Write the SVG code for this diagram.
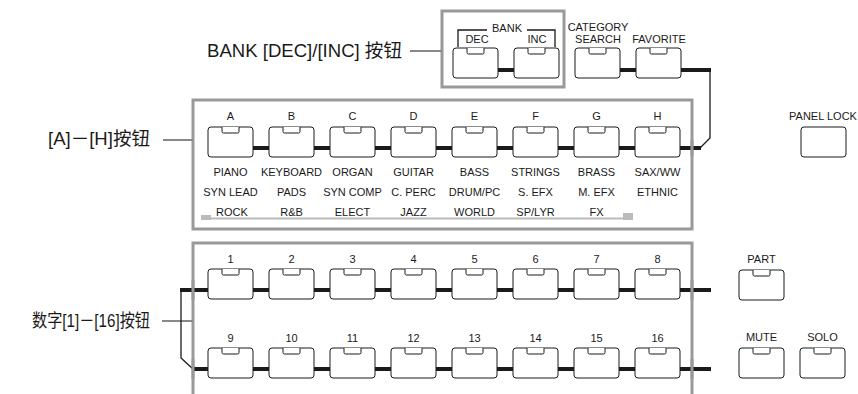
<svg xmlns="http://www.w3.org/2000/svg" xmlns:xlink="http://www.w3.org/1999/xlink" width="858" height="394" viewBox="0 0 858 394">
<style>
.lbl{font-family:"Liberation Sans",Arial,sans-serif;font-size:11px;fill:#1a1a1a;text-anchor:middle}
.big{font-family:"Liberation Sans","Noto Sans CJK SC",sans-serif;font-size:18px;fill:#1a1a1a}
.frame{fill:none;stroke:#999;stroke-width:3}
.lead{fill:none;stroke:#888;stroke-width:2}
.bar{fill:none;stroke:#1a1a1a;stroke-width:4}
.wire{fill:none;stroke:#1a1a1a;stroke-width:1.3}
.sbar{fill:none;stroke:#bbb;stroke-width:2}
</style>
<defs>
<g id="btn">
<rect x="0" y="0" width="45" height="30" rx="3" fill="#fff" stroke="#1a1a1a" stroke-width="1"/>
<path d="M14,0 V4.5 Q14,6 15.5,6 H29.5 Q31,6 31,4.5 V0" fill="#fff" stroke="#1a1a1a" stroke-width="1"/>
</g>
<g id="btnp">
<rect x="0" y="0" width="45" height="30" rx="3" fill="#fff" stroke="#1a1a1a" stroke-width="1"/>
</g>
</defs>
<rect width="858" height="394" fill="#fff"/>

<!-- frames and leaders -->
<g id="frames">
<rect class="frame" x="442" y="11" width="122" height="76"/>
<rect class="frame" x="193" y="100" width="499" height="129"/>
<path class="frame" d="M193,396 V243 H692 V396"/>
<path class="lead" d="M410,51 H442"/>
<path class="lead" d="M163,140 H193"/>
<path class="lead" d="M162,321 H193"/>
<path class="sbar" d="M206,218.5 H628"/>
<rect x="201" y="215" width="10" height="5" fill="#bbb"/>
<rect x="623" y="213" width="10" height="7" fill="#bbb"/>
</g>

<!-- connectors -->
<g id="connectors">
<path class="bar" d="M498,70 H514 M620,70 H636 M681,70 H711"/>
<path class="wire" d="M710,70 V138 L700,148"/>
<path class="bar" d="M253,148 H269 M314,148 H330 M375,148 H391 M436,148 H452 M497,148 H513 M558,148 H574 M619,148 H635 M680,148 H701"/>
<path class="bar" d="M180,290 H208 M253,290 H269 M314,290 H330 M375,290 H391 M436,290 H452 M497,290 H513 M558,290 H574 M619,290 H635 M680,290 H711"/>
<path class="bar" d="M193,369 H208 M253,369 H269 M314,369 H330 M375,369 H391 M436,369 H452 M497,369 H513 M558,369 H574 M619,369 H635 M680,369 H711"/>
<path class="wire" d="M181,290 V358 L193,369"/>
<path class="frame" d="M692,280 V300 M692,359 V379 M193,280 V300 M193,359 V379 M692,140 V156"/>
</g>

<!-- callout labels -->
<g id="callouts">
<text class="big" x="207" y="57" textLength="195" lengthAdjust="spacingAndGlyphs">BANK [DEC]/[INC] 按钮</text>
<text class="big" x="48" y="145" textLength="102" lengthAdjust="spacingAndGlyphs">[A]－[H]按钮</text>
<text class="big" x="32" y="327" textLength="118" lengthAdjust="spacingAndGlyphs">数字[1]－[16]按钮</text>
</g>

<!-- bank buttons -->
<g id="bank-label">
<text class="lbl" x="507" y="32">BANK</text>
<path class="wire" d="M458,47 V30 H487 M527,30 H555 V47"/>
</g>
<g id="btn-dec"><text class="lbl" x="477" y="43">DEC</text><use xlink:href="#btn" x="453" y="48"/></g>
<g id="btn-inc"><text class="lbl" x="537" y="43">INC</text><use xlink:href="#btn" x="514" y="48"/></g>
<g id="btn-category"><text class="lbl" x="598" y="31">CATEGORY</text><text class="lbl" x="598" y="43">SEARCH</text><use xlink:href="#btn" x="575" y="48"/></g>
<g id="btn-favorite"><text class="lbl" x="659" y="43">FAVORITE</text><use xlink:href="#btn" x="636" y="48"/></g>
<g id="btn-panel-lock"><text class="lbl" x="823" y="120">PANEL LOCK</text><use xlink:href="#btnp" x="801" y="127"/></g>

<!-- A-H -->
<g id="btn-a"><text class="lbl" x="230.5" y="120">A</text><use xlink:href="#btn" x="208" y="127"/><text class="lbl" x="230.5" y="176">PIANO</text><text class="lbl" x="230.5" y="196">SYN LEAD</text><text class="lbl" x="232" y="216">ROCK</text></g>
<g id="btn-b"><text class="lbl" x="291.5" y="120">B</text><use xlink:href="#btn" x="269" y="127"/><text class="lbl" x="291.5" y="176">KEYBOARD</text><text class="lbl" x="291.5" y="196">PADS</text><text class="lbl" x="291.5" y="216">R&amp;B</text></g>
<g id="btn-c"><text class="lbl" x="352.5" y="120">C</text><use xlink:href="#btn" x="330" y="127"/><text class="lbl" x="352.5" y="176">ORGAN</text><text class="lbl" x="352.5" y="196">SYN COMP</text><text class="lbl" x="352.5" y="216">ELECT</text></g>
<g id="btn-d"><text class="lbl" x="413.5" y="120">D</text><use xlink:href="#btn" x="391" y="127"/><text class="lbl" x="413.5" y="176">GUITAR</text><text class="lbl" x="413.5" y="196">C. PERC</text><text class="lbl" x="413.5" y="216">JAZZ</text></g>
<g id="btn-e"><text class="lbl" x="474.5" y="120">E</text><use xlink:href="#btn" x="452" y="127"/><text class="lbl" x="474.5" y="176">BASS</text><text class="lbl" x="474.5" y="196">DRUM/PC</text><text class="lbl" x="474.5" y="216">WORLD</text></g>
<g id="btn-f"><text class="lbl" x="535.5" y="120">F</text><use xlink:href="#btn" x="513" y="127"/><text class="lbl" x="535.5" y="176">STRINGS</text><text class="lbl" x="535.5" y="196">S. EFX</text><text class="lbl" x="535.5" y="216">SP/LYR</text></g>
<g id="btn-g"><text class="lbl" x="596.5" y="120">G</text><use xlink:href="#btn" x="574" y="127"/><text class="lbl" x="596.5" y="176">BRASS</text><text class="lbl" x="596.5" y="196">M. EFX</text><text class="lbl" x="596.5" y="216">FX</text></g>
<g id="btn-h"><text class="lbl" x="657.5" y="120">H</text><use xlink:href="#btn" x="635" y="127"/><text class="lbl" x="657.5" y="176">SAX/WW</text><text class="lbl" x="657.5" y="196">ETHNIC</text></g>

<!-- numbers -->
<g id="btn-1"><text class="lbl" x="230.5" y="263">1</text><use xlink:href="#btn" x="208" y="269"/></g>
<g id="btn-2"><text class="lbl" x="291.5" y="263">2</text><use xlink:href="#btn" x="269" y="269"/></g>
<g id="btn-3"><text class="lbl" x="352.5" y="263">3</text><use xlink:href="#btn" x="330" y="269"/></g>
<g id="btn-4"><text class="lbl" x="413.5" y="263">4</text><use xlink:href="#btn" x="391" y="269"/></g>
<g id="btn-5"><text class="lbl" x="474.5" y="263">5</text><use xlink:href="#btn" x="452" y="269"/></g>
<g id="btn-6"><text class="lbl" x="535.5" y="263">6</text><use xlink:href="#btn" x="513" y="269"/></g>
<g id="btn-7"><text class="lbl" x="596.5" y="263">7</text><use xlink:href="#btn" x="574" y="269"/></g>
<g id="btn-8"><text class="lbl" x="657.5" y="263">8</text><use xlink:href="#btn" x="635" y="269"/></g>
<g id="btn-9"><text class="lbl" x="230.5" y="342">9</text><use xlink:href="#btn" x="208" y="348"/></g>
<g id="btn-10"><text class="lbl" x="291.5" y="342">10</text><use xlink:href="#btn" x="269" y="348"/></g>
<g id="btn-11"><text class="lbl" x="352.5" y="342">11</text><use xlink:href="#btn" x="330" y="348"/></g>
<g id="btn-12"><text class="lbl" x="413.5" y="342">12</text><use xlink:href="#btn" x="391" y="348"/></g>
<g id="btn-13"><text class="lbl" x="474.5" y="342">13</text><use xlink:href="#btn" x="452" y="348"/></g>
<g id="btn-14"><text class="lbl" x="535.5" y="342">14</text><use xlink:href="#btn" x="513" y="348"/></g>
<g id="btn-15"><text class="lbl" x="596.5" y="342">15</text><use xlink:href="#btn" x="574" y="348"/></g>
<g id="btn-16"><text class="lbl" x="657.5" y="342">16</text><use xlink:href="#btn" x="635" y="348"/></g>

<g id="btn-part"><text class="lbl" x="761.5" y="263">PART</text><use xlink:href="#btn" x="739" y="270"/></g>
<g id="btn-mute"><text class="lbl" x="761.5" y="341">MUTE</text><use xlink:href="#btn" x="739" y="348"/></g>
<g id="btn-solo"><text class="lbl" x="822.5" y="341">SOLO</text><use xlink:href="#btn" x="800" y="348"/></g>
</svg>
